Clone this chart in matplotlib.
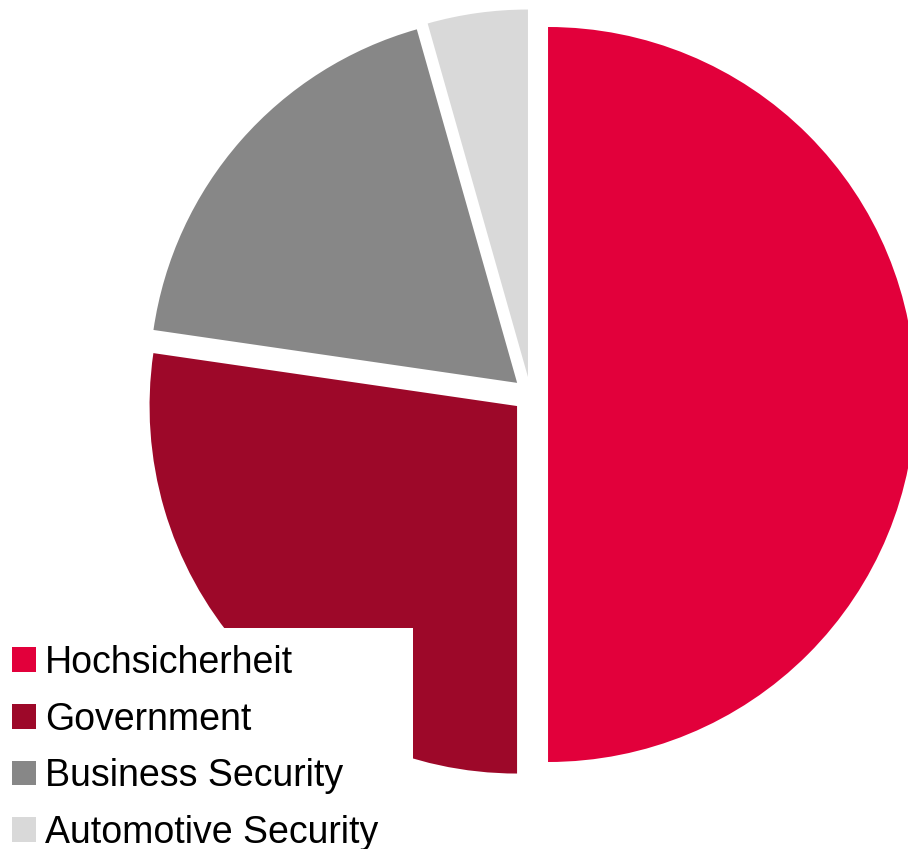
import matplotlib
matplotlib.use("Agg")
import matplotlib.pyplot as plt
from matplotlib.patches import Patch, Rectangle

categories = ["Hochsicherheit", "Government", "Business Security", "Automotive Security"]
values = [50.0, 27.3, 18.3, 4.4]
colors = ["#E2003B", "#9D0829", "#878787", "#D9D9D9"]

W, H = 908, 849
R = 367.5          # pie radius in pixels
CX, CY = 530.4, 394.5  # pie centre in pixels (from top-left)

plt.rcParams['font.family'] = ['Liberation Sans', 'DejaVu Sans']

fig = plt.figure(figsize=(W / 100, H / 100), dpi=100)
ax = fig.add_axes([0, 0, 1, 1])
ax.pie(values, colors=colors, startangle=90, counterclock=False,
       explode=[0.048] * len(values), radius=1,
       wedgeprops=dict(linewidth=0))
ax.set_aspect('auto')
ax.set_xlim(-CX / R, (W - CX) / R)
ax.set_ylim(-(H - CY) / R, CY / R)
ax.axis('off')

# white legend background
fig.add_artist(Rectangle((0, 0), 413 / W, (H - 628) / H, transform=fig.transFigure,
                         facecolor='white', edgecolor='none', zorder=5))

handles = [Patch(facecolor=c, edgecolor='none') for c in colors]
fs = 27
leg = fig.legend(handles, categories, loc='upper left',
                 bbox_to_anchor=(12 / W, 1 - 645 / H), bbox_transform=fig.transFigure,
                 frameon=False, fontsize=fs, borderpad=0, borderaxespad=0,
                 handlelength=0.64, handleheight=0.64, handletextpad=0.25,
                 labelspacing=0.55)
leg.set_zorder(6)

fig.savefig("out.png", dpi=100, facecolor='white')
